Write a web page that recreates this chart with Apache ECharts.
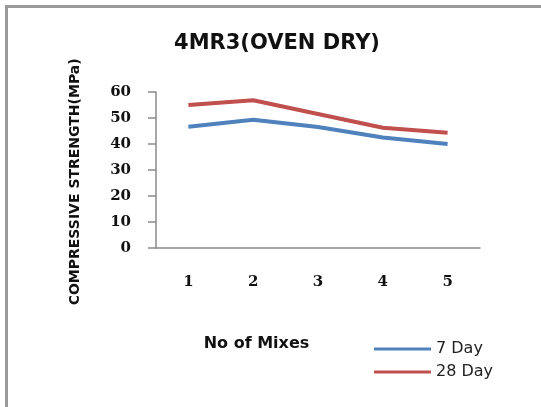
<!DOCTYPE html>
<html>
<head>
<meta charset="utf-8">
<script src="https://cdn.jsdelivr.net/npm/echarts@6/dist/echarts.min.js"></script>
<style>
  html, body { margin: 0; padding: 0; background: #fff; }
  #chart { width: 541px; height: 407px; }
</style>
</head>
<body>
<div id="chart"></div>
<script>
// Compressive strength of mix 4MR3 (oven dry), per mix number
const mixes = ['1', '2', '3', '4', '5'];
const day7 = [46.6, 49.3, 46.5, 42.5, 40.0];
const day28 = [55.0, 56.8, 51.5, 46.2, 44.3];
const yTicks = { min: 0, max: 60, interval: 10 };

const chart = echarts.init(document.getElementById('chart'));
const axisGray = '#8a8a8a';
const serif = '"DejaVu Serif", "Liberation Serif", serif';
const sans = '"DejaVu Sans", "Liberation Sans", sans-serif';

chart.setOption({
  animation: false,
  backgroundColor: '#fff',
  graphic: [{
    type: 'rect',
    shape: { x: 6.5, y: 6.5, width: 560, height: 420 },
    style: { fill: 'none', stroke: '#9a9a9a', lineWidth: 3 },
    silent: true
  }],
  title: {
    text: '4MR3(OVEN DRY)',
    left: 272,
    top: 28,
    textAlign: 'center',
    textStyle: { fontFamily: sans, fontWeight: 'bold', fontSize: 21, color: '#111' }
  },
  grid: { left: 156, right: 61, top: 92, bottom: 159.3, containLabel: false },
  xAxis: {
    type: 'category',
    data: mixes,
    boundaryGap: true,
    name: 'No of Mixes',
    nameLocation: 'middle',
    nameGap: 88,
    nameTextStyle: { fontFamily: sans, fontWeight: 'bold', fontSize: 16, color: '#111', padding: [0, 0, 0, -123] },
    axisLine: { lineStyle: { color: axisGray, width: 1.5 } },
    axisTick: { show: false },
    axisLabel: { margin: 27, fontFamily: serif, fontWeight: 'bold', fontSize: 15, color: '#111' },
    splitLine: { show: false }
  },
  yAxis: {
    type: 'value',
    min: yTicks.min,
    max: yTicks.max,
    interval: yTicks.interval,
    name: 'COMPRESSIVE STRENGTH(MPa)',
    nameLocation: 'middle',
    nameRotate: 90,
    nameGap: 74,
    nameTextStyle: { fontFamily: sans, fontWeight: 'bold', fontSize: 14, color: '#111', padding: [0, 24, 0, 0] },
    axisLine: { show: true, lineStyle: { color: axisGray, width: 1.5 } },
    axisTick: { show: true, length: 8, lineStyle: { color: axisGray, width: 1.5 } },
    axisLabel: { margin: 25, fontFamily: serif, fontWeight: 'bold', fontSize: 15, color: '#111' },
    splitLine: { show: false }
  },
  legend: {
    orient: 'vertical',
    left: 369,
    top: 336,
    itemWidth: 57,
    itemHeight: 3,
    itemGap: 7,
    icon: 'rect',
    textStyle: { fontFamily: sans, fontSize: 16, color: '#222', padding: [0, 0, 0, 0] },
    data: ['7 Day', '28 Day']
  },
  series: [
    {
      name: '7 Day', type: 'line', data: day7,
      symbol: 'none', lineStyle: { color: '#4F81BD', width: 4 }, itemStyle: { color: '#4F81BD' }
    },
    {
      name: '28 Day', type: 'line', data: day28,
      symbol: 'none', lineStyle: { color: '#C0504D', width: 4 }, itemStyle: { color: '#C0504D' }
    }
  ]
});
</script>
</body>
</html>
